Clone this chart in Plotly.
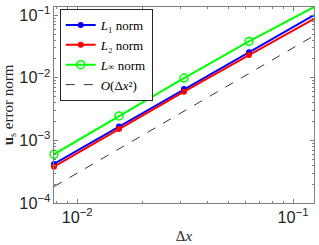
import numpy as np
import plotly.graph_objects as go

dx = [1/128, 1/64, 1/32, 1/16, 1/8]
L1 = [4.2e-4, 1.66e-3, 6.6e-3, 2.55e-2, 1.0e-1]
L2 = [3.8e-4, 1.52e-3, 6.0e-3, 2.31e-2, 8.75e-2]
Linf = [6.0e-4, 2.46e-3, 9.9e-3, 3.8e-2, 1.35e-1]
ref = [1.83e-4, 7.3e-4, 2.93e-3, 1.17e-2, 4.69e-2]

fig = go.Figure()
fig.add_trace(go.Scatter(x=dx, y=L1, mode="lines+markers", name="<i>L</i>₁ norm",
                         line=dict(color="rgb(0,0,255)", width=2),
                         marker=dict(symbol="circle", size=6, color="rgb(0,0,255)"),
                         cliponaxis=False))
fig.add_trace(go.Scatter(x=dx, y=L2, mode="lines+markers", name="<i>L</i>₂ norm",
                         line=dict(color="rgb(255,0,0)", width=2),
                         marker=dict(symbol="circle", size=6, color="rgb(255,0,0)"),
                         cliponaxis=False))
fig.add_trace(go.Scatter(x=dx, y=Linf, mode="lines+markers",
                         name="<i>L</i><span style=\"font-size:9px\">∞</span> norm",
                         line=dict(color="rgb(0,255,0)", width=2),
                         marker=dict(symbol="circle-open", size=8, color="rgb(0,255,0)",
                                     line=dict(width=1.5)),
                         cliponaxis=False))
fig.add_trace(go.Scatter(x=dx, y=ref, mode="lines", name="<i>O</i>(Δ<i>x</i>²)",
                         line=dict(color="black", width=0.8, dash="dash")))

axis_common = dict(type="log", showgrid=False, zeroline=False, showline=True,
                   linecolor="#808080", linewidth=1, mirror="ticks",
                   ticks="inside", ticklen=4, tickcolor="#808080",
                   exponentformat="power", dtick=1,
                   tickfont=dict(family="Liberation Sans, Arial", size=13, color="#262626"),
                   minor=dict(ticks="inside", ticklen=2, tickcolor="#808080", showgrid=False))

fig.update_xaxes(**axis_common, range=[np.log10(dx[0]), np.log10(dx[-1])],
                 title=dict(text="Δ<i>x</i>", font=dict(family="Liberation Serif, DejaVu Serif", size=15, color="#262626"),
                            standoff=5))
fig.update_yaxes(**axis_common, range=[-4, np.log10(max(Linf))],
                 title=dict(text="<b>u</b><sub>s</sub> error norm",
                            font=dict(family="Liberation Serif, DejaVu Serif", size=15, color="#262626"),
                            standoff=5))

fig.update_layout(width=319, height=245, margin=dict(l=45, r=5, t=4, b=41),
                  paper_bgcolor="white", plot_bgcolor="white",
                  showlegend=True,
                  legend=dict(x=0.022, y=0.99, xanchor="left", yanchor="top",
                              bgcolor="white", bordercolor="#262626", borderwidth=1,
                              font=dict(family="Liberation Serif, DejaVu Serif", size=13, color="black"),
                              tracegroupgap=0, itemwidth=30))
fig.write_html("out.html", config={"displayModeBar": False},
               post_script="document.body.style.margin='0';")
